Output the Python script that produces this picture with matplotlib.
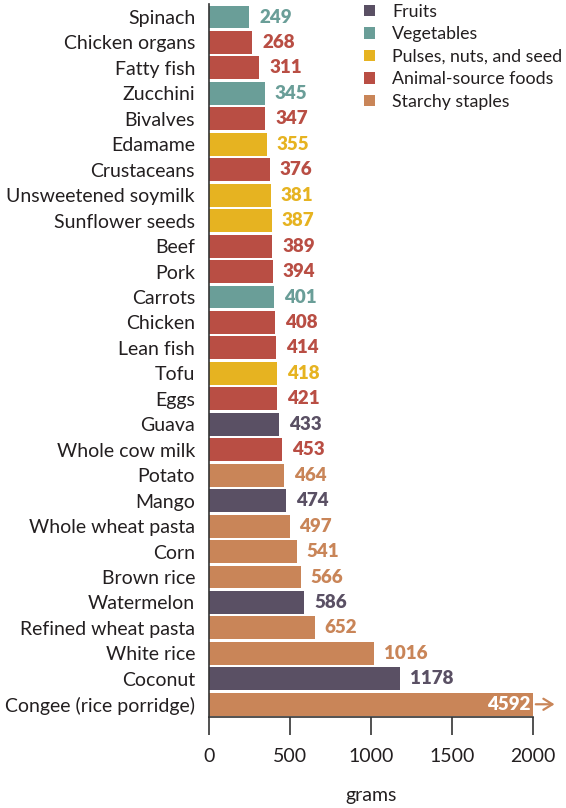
import matplotlib
matplotlib.use("Agg")
import matplotlib.pyplot as plt
from matplotlib.patches import Patch

foods = ["Spinach", "Chicken organs", "Fatty fish", "Zucchini", "Bivalves", "Edamame",
         "Crustaceans", "Unsweetened soymilk", "Sunflower seeds", "Beef", "Pork", "Carrots",
         "Chicken", "Lean fish", "Tofu", "Eggs", "Guava", "Whole cow milk", "Potato", "Mango",
         "Whole wheat pasta", "Corn", "Brown rice", "Watermelon", "Refined wheat pasta",
         "White rice", "Coconut", "Congee (rice porridge)"]
grams = [249, 268, 311, 345, 347, 355, 376, 381, 387, 389, 394, 401, 408, 414, 418, 421,
         433, 453, 464, 474, 497, 541, 566, 586, 652, 1016, 1178, 4592]
groups = ["Vegetables", "Animal-source foods", "Animal-source foods", "Vegetables",
          "Animal-source foods", "Pulses, nuts, and seed", "Animal-source foods",
          "Pulses, nuts, and seed", "Pulses, nuts, and seed", "Animal-source foods",
          "Animal-source foods", "Vegetables", "Animal-source foods", "Animal-source foods",
          "Pulses, nuts, and seed", "Animal-source foods", "Fruits", "Animal-source foods",
          "Starchy staples", "Fruits", "Starchy staples", "Starchy staples", "Starchy staples",
          "Fruits", "Starchy staples", "Starchy staples", "Fruits", "Starchy staples"]
legend_order = ["Fruits", "Vegetables", "Pulses, nuts, and seed", "Animal-source foods",
                "Starchy staples"]
xticks = [0, 500, 1000, 1500, 2000]
xmax = 2000

colors = {"Fruits": "#5a5064", "Vegetables": "#6a9e98", "Pulses, nuts, and seed": "#e6b321",
          "Animal-source foods": "#b94e44", "Starchy staples": "#c98558"}
txt = '#231f20'

plt.rcParams['font.family'] = ['Lato', 'DejaVu Sans']
fig = plt.figure(figsize=(5.66, 8.08), dpi=100)
ax = fig.add_axes([209/566, 1-717/808, 324/566, (717-4.3)/808])

ys = list(range(len(foods)))
shown = [min(v, xmax) for v in grams]
cols = [colors[g] for g in groups]
ax.barh(ys, shown, height=0.9, color=cols, zorder=2)
ax.set_ylim(len(foods)-0.5, -0.5)
ax.set_xlim(0, xmax)

for y, v, s, c in zip(ys, grams, shown, cols):
    if v > xmax:
        ax.text(s - 14, y, str(v), ha='right', va='center', color='white',
                fontsize=13.5, fontweight='heavy')
        ax.annotate("", xy=(s + 150, y), xytext=(s, y),
                    arrowprops=dict(arrowstyle='->,head_length=0.65,head_width=0.4',
                                    color=c, lw=1.6), annotation_clip=False)
    else:
        ax.text(s + 62, y, str(v), ha='left', va='center', color=c,
                fontsize=13.5, fontweight='heavy', clip_on=False)

ax.set_yticks(ys)
ax.set_yticklabels(foods, fontsize=14, color=txt)
ax.tick_params(axis='y', length=0, pad=10)
ax.set_xticks(xticks)
ax.set_xticklabels([str(t) for t in xticks], fontsize=14, color=txt)
ax.tick_params(axis='x', length=13, width=1.2, color='#333333', pad=9)
for sp in ['top', 'right']:
    ax.spines[sp].set_visible(False)
for sp in ['left', 'bottom']:
    ax.spines[sp].set_color('#333333')
    ax.spines[sp].set_linewidth(1.2)
ax.set_xlabel("grams", fontsize=14, color=txt, labelpad=16)

handles = [Patch(facecolor=colors[g], edgecolor='none', label=g) for g in legend_order]
fig.legend(handles=handles, loc='upper left', bbox_to_anchor=(364/566, 1 - 4/808),
           frameon=False, fontsize=12.8, handlelength=0.6, handleheight=0.6,
           handletextpad=1.0, labelspacing=0.36, borderaxespad=0, borderpad=0.0,
           labelcolor=txt)

fig.savefig("out.png", dpi=100)
